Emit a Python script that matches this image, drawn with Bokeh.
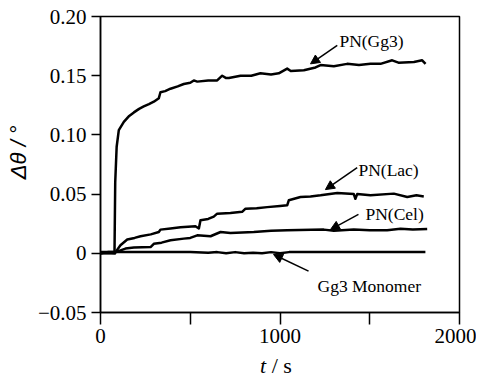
from bokeh.plotting import figure
from bokeh.models import Range1d, FixedTicker, Label, Arrow, NormalHead, Div
from bokeh.layouts import column
from bokeh.embed import file_html
from bokeh.resources import INLINE

# Data
t_gg3 = [0, 40, 78, 82, 90, 102, 130, 160, 186, 215, 241, 270, 297, 325, 334, 360, 390, 430, 464,
         500, 520, 539, 600, 650, 678, 700, 715, 780, 840, 891, 950, 993, 1040, 1060, 1133, 1198,
         1226, 1300, 1374, 1440, 1504, 1560, 1625, 1660, 1746, 1792, 1811]
v_gg3 = [0.000, 0.001, 0.001, 0.060, 0.090, 0.104, 0.111, 0.116, 0.119, 0.122, 0.124, 0.126, 0.128,
         0.131, 0.136, 0.137, 0.139, 0.141, 0.143, 0.144, 0.146, 0.145, 0.146, 0.146, 0.150, 0.148,
         0.148, 0.150, 0.150, 0.152, 0.151, 0.152, 0.156, 0.154, 0.1546, 0.157, 0.159, 0.158, 0.160,
         0.159, 0.160, 0.160, 0.163, 0.161, 0.1616, 0.163, 0.160]

t_lac = [0, 40, 80, 84, 111, 149, 190, 223, 280, 325, 334, 390, 446, 529, 548, 557, 600, 631, 650,
         724, 789, 808, 870, 929, 1000, 1040, 1049, 1114, 1170, 1226, 1319, 1411, 1420, 1430, 1504,
         1634, 1709, 1760, 1801]
v_lac = [0.0, 0.0005, 0.0, 0.001, 0.0068, 0.0116, 0.013, 0.0144, 0.016, 0.018, 0.020, 0.021, 0.022,
         0.0228, 0.021, 0.028, 0.029, 0.031, 0.0335, 0.034, 0.035, 0.0377, 0.038, 0.039, 0.040,
         0.0405, 0.0448, 0.0476, 0.048, 0.049, 0.051, 0.050, 0.046, 0.050, 0.049, 0.0504, 0.0476,
         0.049, 0.048]

t_cel = [0, 80, 84, 139, 186, 279, 297, 340, 390, 464, 500, 539, 613, 669, 724, 854, 950, 1040,
         1244, 1300, 1411, 1500, 1597, 1671, 1740, 1820]
v_cel = [0.0, 0.0, 0.001, 0.004, 0.0048, 0.0053, 0.008, 0.009, 0.011, 0.0124, 0.013, 0.0152, 0.0144,
         0.018, 0.0171, 0.018, 0.019, 0.0194, 0.020, 0.019, 0.020, 0.0195, 0.0194, 0.0208, 0.020,
         0.0205]

t_mono = [0, 300, 500, 600, 650, 700, 750, 800, 850, 900, 950, 1000, 1050, 1100, 1200, 1400, 1600, 1810]
v_mono = [0.001, 0.001, 0.001, 0.0005, 0.001, 0.0, 0.001, 0.0, 0.0005, 0.0, 0.001, 0.0, 0.001,
          0.001, 0.001, 0.001, 0.001, 0.001]

x_ticks = [0, 500, 1000, 1500, 2000]
x_tick_labels = {0: "0", 500: "", 1000: "1000", 1500: "", 2000: "2000"}
y_ticks = [-0.05, 0, 0.05, 0.10, 0.15, 0.20]
y_tick_labels = {-0.05: "\u22120.05", 0: "0", 0.05: "0.05", 0.1: "0.10", 0.15: "0.15", 0.2: "0.20"}

# annotations: (text, label x, label y, arrow start x, y, arrow end x, y)
annotations = [
    ("PN(Gg3)", 1331, 0.179, 1319, 0.1756, 1170, 0.160),
    ("PN(Lac)", 1437, 0.0706, 1430, 0.0723, 1253, 0.0538),
    ("PN(Cel)", 1476, 0.0328, 1437, 0.0328, 1281, 0.020),
    ("Gg3 Monomer", 1209, -0.0277, 1159, -0.0151, 964, -0.001),
]

SERIF = "Liberation Serif"

p = figure(width=476, height=354, output_backend="svg", toolbar_location=None,
           x_range=Range1d(0, 2000), y_range=Range1d(-0.05, 0.20),
           min_border_left=100, min_border_right=17, min_border_top=16, min_border_bottom=42)
p.background_fill_color = "white"
p.border_fill_color = "white"
p.outline_line_color = "black"
p.outline_line_width = 1.5
p.xgrid.visible = False
p.ygrid.visible = False

for ax in (p.xaxis[0], p.yaxis[0]):
    ax.axis_line_color = "black"
    ax.axis_line_width = 1.5
    ax.major_tick_line_width = 1.5
    ax.major_tick_in = 0
    ax.minor_tick_line_color = None
    ax.major_label_text_font = SERIF
    ax.major_label_text_font_size = "21px"
    ax.major_label_text_color = "black"

p.xaxis[0].ticker = FixedTicker(ticks=x_ticks)
p.xaxis[0].major_label_overrides = x_tick_labels
p.xaxis[0].major_tick_out = 12
p.xaxis[0].major_label_standoff = 4
p.yaxis[0].ticker = FixedTicker(ticks=y_ticks)
p.yaxis[0].major_label_overrides = y_tick_labels
p.yaxis[0].major_tick_out = 9
p.yaxis[0].major_label_standoff = 5
p.yaxis[0].axis_label = "\u00a0\u00a0\u00a0\u00a0\u0394\u03b8 / \u00b0"
p.yaxis[0].axis_label_text_font = "Liberation Sans"
p.yaxis[0].axis_label_text_font_style = "italic"
p.yaxis[0].axis_label_text_font_size = "22px"
p.yaxis[0].axis_label_text_color = "black"
p.yaxis[0].axis_label_standoff = 4

for t, v in ((t_mono, v_mono), (t_cel, v_cel), (t_lac, v_lac), (t_gg3, v_gg3)):
    p.line(t, v, line_color="black", line_width=2.5, line_join="round")

for txt, lx, ly, ax0, ay0, ax1, ay1 in annotations:
    p.add_layout(Label(x=lx, y=ly, text=txt, text_font=SERIF, text_font_size="17.5px",
                       text_color="black", text_baseline="alphabetic", text_align="left"))
    p.add_layout(Arrow(x_start=ax0, y_start=ay0, x_end=ax1, y_end=ay1, line_width=1.5,
                       line_color="black",
                       end=NormalHead(size=9, fill_color="black", line_color="black")))

xlabel = Div(text=("<div style=\"margin:0 0 0 260px; padding:0; font-family:'Liberation Serif';"
                   "font-size:22px; line-height:23px; white-space:nowrap; color:black\">"
                   "<i>t</i> / s</div>"),
             width=476, height=23, margin=(0, 0, 0, 0))

layout = column(p, xlabel, spacing=0)

open("out.html", "w").write(file_html(layout, INLINE))
